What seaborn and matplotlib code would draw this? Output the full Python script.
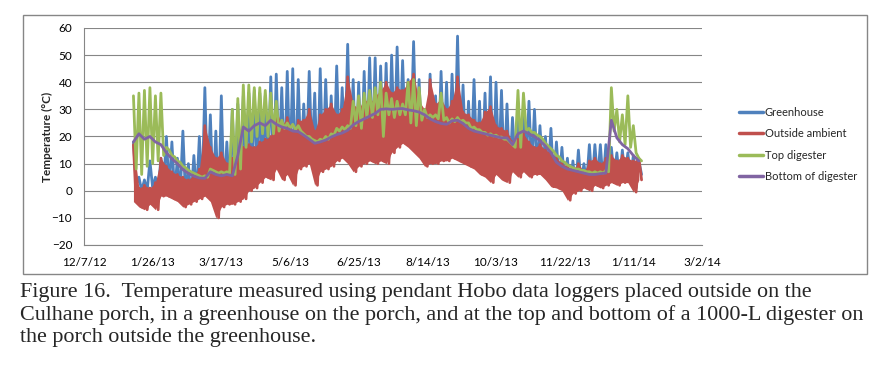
import pandas as pd
import seaborn as sns
import matplotlib.pyplot as plt
from matplotlib.patches import Rectangle

# Hobo logger readings: one daily high/low pair every 4 days
# starting 1/12/13 (high on the sample day, low two days later)
start = "2013-01-12"
greenhouse_hi = [18, 5, 4, 11, 5, 12, 20, 18, 12, 22, 10, 13, 20, 38, 28, 22, 35, 18, 30, 32,
                 35, 36, 37, 36, 35, 42, 43, 38, 44, 45, 41, 32, 44, 36, 45, 41, 35, 46, 38, 54,
                 41, 40, 44, 49, 49, 46, 47, 50, 53, 48, 41, 55, 41, 30, 43, 35, 44, 40, 43, 57,
                 39, 33, 41, 33, 36, 42, 40, 37, 32, 27, 30, 31, 33, 30, 24, 20, 23, 18, 16, 12,
                 11, 15, 10, 17, 17, 17, 17, 16, 14, 15, 14, 13, 11]
greenhouse_lo = [2, 0, 0, 1, 0, 2, 0, -1, -2, -3, -3, -2, -1, 0, -2, -8, -3, -2, -3, -1,
                 0, 2, 3, 5, 7, 6, 10, 6, 8, 4, 10, 11, 12, 4, 9, 10, 11, 13, 14, 12,
                 9, 11, 12, 13, 12, 13, 12, 16, 18, 19, 18, 16, 14, 11, 12, 12, 13, 13, 14, 13,
                 12, 11, 10, 8, 7, 5, 8, 6, 5, 9, 7, 9, 7, 8, 8, 6, 3, 3, 2, -1,
                 1, 2, 3, 2, 4, 3, 4, 5, 4, 5, 5, 1, 6]
outside_hi = [17, 1, 2, 1, 3, 12, 9, 7, 6, 5, 4, 6, 8, 24, 16, 12, 14, 10, 12, 13,
              16, 17, 16, 18, 19, 20, 30, 24, 27, 22, 26, 26, 30, 22, 28, 30, 32, 28, 30, 42,
              32, 30, 34, 32, 35, 37, 40, 36, 38, 37, 40, 43, 33, 30, 41, 32, 34, 30, 33, 42,
              29, 28, 26, 25, 29, 31, 24, 23, 22, 18, 19, 21, 18, 16, 17, 15, 14, 12, 10, 9,
              8, 10, 7, 11, 12, 10, 12, 13, 11, 13, 12, 11, 12]
outside_lo = [-4, -6, -7, -5, -7, -2, -2, -3, -4, -6, -5, -4, -3, -2, -4, -10, -6, -5, -5, -4,
              -3, 0, 1, 3, 5, 4, 8, 4, 6, 2, 8, 9, 10, 2, 7, 8, 9, 11, 12, 10,
              7, 9, 10, 11, 10, 11, 10, 14, 16, 17.5, 16, 14, 12, 9, 10, 10, 11, 11, 12, 11,
              10, 9, 8, 6, 5, 3, 6, 4, 3, 7, 5, 7, 5, 6, 6, 4, 1.5, 1, 0, -3.5,
              -1, 0, 1, 0, 2, 1, 2, 3, 2, 3, 3, -0.5, 4]
top_hi = [35, 36, 37, 38, 35, 36, 16, 13, 11, 9, 7.5, 6.5, 5.5, 5.5, 8, 7, 7, 7, 30, 34,
          39, 39, 38, 38, 37, 36, 33, 26, 25, 24.5, 24, 21, 20, 18.5, 19, 20, 21, 23, 23.5, 24,
          33, 35, 36, 37, 38, 40, 36, 34, 33, 32, 40, 41, 38, 30, 28, 28, 36, 27, 26.5, 27,
          26, 25, 23.5, 22.5, 21.5, 21, 20.5, 19.8, 19, 17, 37, 36, 23, 21.5, 20, 17.5, 15.5, 13, 11, 9.5,
          8.5, 8, 7.5, 7, 7, 7, 7.5, 38, 30, 28, 35, 24, 12]
top_lo = [8, 6, 9, 10, 11, 13, 15, 12.5, 10.5, 8.5, 7, 6, 5, 5, 7.5, 6.5, 6.5, 6.5, 6, 8,
          16, 18, 20, 21, 20, 21, 22, 23, 23, 22.5, 22, 20, 19, 18, 18.5, 19, 20.5, 22, 22.5, 23,
          24, 23, 27, 27, 28, 20, 28, 27, 28, 28, 25, 24, 26, 27, 27, 26.5, 26, 25, 25.5, 25.5,
          25, 23, 22.5, 21.5, 20.5, 20.2, 19.7, 19, 18, 16, 16, 22, 21.5, 20.5, 19, 16.5, 14.5, 12.5, 10.5, 9,
          8, 7.5, 7, 6.5, 6.5, 6.5, 7, 22, 18, 17, 16, 14, 11]
bottom = [18, 21, 19, 20, 18, 17, 14, 11.8, 10, 7.8, 6.4, 5.4, 4.7, 4.6, 7, 6, 5.5, 6, 5.5, 13,
          23.5, 22, 24, 25, 24, 26, 24.5, 23.5, 23, 22, 21.8, 20.5, 19, 17.5, 18, 18.7, 19.8, 20.7, 21.3, 22.3,
          24.3, 25.5, 26.5, 27.5, 28.5, 30, 30.2, 30, 30.2, 30.3, 29.8, 29.5, 29, 28, 26.5, 25.5, 24.8, 24.5, 25.8, 26,
          24.8, 23, 22, 21.5, 21, 20.5, 20, 19.5, 19.5, 17, 21, 22, 21, 20, 18.5, 16.5, 14, 10.5, 9, 8,
          7.5, 7, 6.5, 6, 6, 6.3, 6.5, 26, 19.5, 17, 15.5, 13, 11]

series_names = ["Greenhouse", "Outside ambient", "Top digester", "Bottom of digester"]
colors = ["#4F81BD", "#C0504D", "#9BBB59", "#8064A2"]
tick_labels = ["12/7/12", "1/26/13", "3/17/13", "5/6/13", "6/25/13", "8/14/13",
               "10/3/13", "11/22/13", "1/11/14", "3/2/14"]
caption = ("Figure 16.  Temperature measured using pendant Hobo data loggers placed outside on the\n"
           "Culhane porch, in a greenhouse on the porch, and at the top and bottom of a 1000-L digester on\n"
           "the porch outside the greenhouse.")

days = pd.date_range(start, periods=len(bottom), freq="4D")
half = pd.Timedelta(days=2)
rows = []
for name, hi, lo in [(series_names[0], greenhouse_hi, greenhouse_lo),
                     (series_names[1], outside_hi, outside_lo),
                     (series_names[2], top_hi, top_lo)]:
    for t, h, l in zip(days, hi, lo):
        rows.append((t, h, name))
        rows.append((t + half, l, name))
for t, v in zip(days, bottom):
    rows.append((t, v, series_names[3]))
df = pd.DataFrame(rows, columns=["date", "temp", "series"])

sns.set_style("white")
plt.rcParams["font.family"] = ["Lato", "DejaVu Sans"]

fig = plt.figure(figsize=(8.85, 3.74), dpi=100)
ax = fig.add_axes([84 / 885, 1 - 245 / 374, 618 / 885, 217 / 374])
sns.lineplot(data=df, x="date", y="temp", hue="series", hue_order=series_names,
             palette=colors, estimator=None, linewidth=2, ax=ax)

# stacking like the Excel original: each series covers the ones before it
for i, line in enumerate(ax.lines[:4]):
    line.set_zorder(2 + i)
# hourly outside readings make a solid daily band between low and high
ax.fill_between(days, outside_lo, outside_hi, color=colors[1], lw=0, zorder=2.9)

tick_dates = pd.to_datetime(tick_labels, format="%m/%d/%y")
ax.set_xlim(tick_dates[0], tick_dates[-1])
ax.set_xticks(tick_dates)
ax.set_xticklabels(tick_labels)
ax.set_ylim(-20, 60)
ax.set_yticks(range(-20, 61, 10))
ax.set_xlabel("")
ax.set_ylabel("Temperature (°C)", fontsize=8.5, fontweight="bold")
ax.yaxis.set_label_coords(-0.05, 0.5)

ax.yaxis.grid(True, color="#868686", linewidth=0.8)
ax.set_axisbelow(True)
for s in ["top", "right"]:
    ax.spines[s].set_visible(False)
for s in ["left", "bottom"]:
    ax.spines[s].set_color("#868686")
    ax.spines[s].set_linewidth(0.8)
ax.tick_params(axis="both", direction="out", length=3.5, width=0.8, color="#868686",
               labelsize=8.5, pad=5, labelcolor="black")

handles, labels = ax.get_legend_handles_labels()
ax.get_legend().remove()
leg = fig.legend(handles, labels, loc="center left", bbox_to_anchor=(733 / 885, 1 - 144.5 / 374),
                 frameon=False, fontsize=8, handlelength=2.2, handletextpad=0.15,
                 labelspacing=0.95, borderpad=0)
for line in leg.get_lines():
    line.set_linewidth(2.5)

fig.patches.append(Rectangle((23 / 885, 1 - 274 / 374), 844 / 885, 259 / 374,
                             transform=fig.transFigure, fill=False,
                             edgecolor="#868686", linewidth=1))

fig.text(20 / 885, 1 - 283 / 374, caption, family="Liberation Serif", fontsize=15.9,
         va="top", linespacing=1.2)

fig.savefig("out.png", dpi=100)
